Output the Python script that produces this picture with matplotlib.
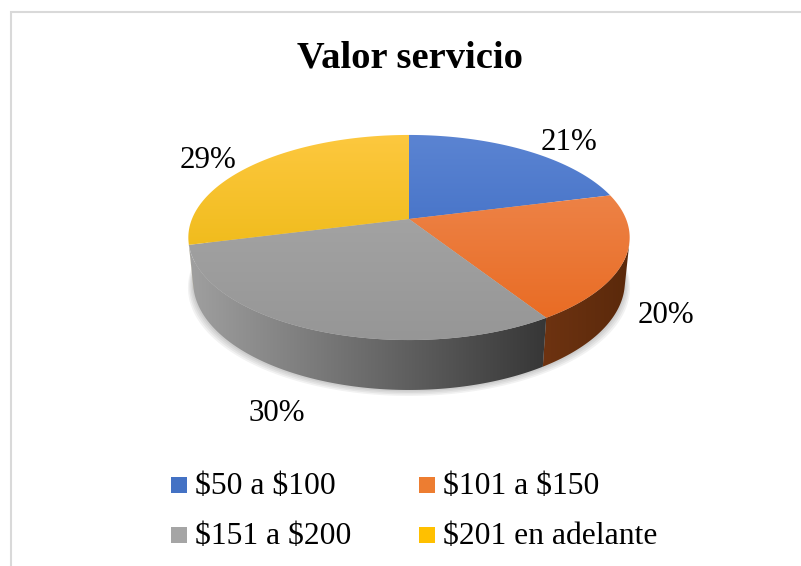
import numpy as np
import matplotlib
matplotlib.use('Agg')
import matplotlib.pyplot as plt
from matplotlib.patches import Polygon, Rectangle
from matplotlib.colors import LinearSegmentedColormap

# Data
categories = ['\\$50 a \\$100', '\\$101 a \\$150', '\\$151 a \\$200', '\\$201 en adelante']
values = [21, 20, 30, 29]
pct_labels = ['21%', '20%', '30%', '29%']

# Colours (top face light -> dark, side face left -> right)
top_colors = [('#5b84d2', '#3162be'), ('#ef8d57', '#e8681e'),
              ('#ababab', '#969696'), ('#fdc83f', '#e6b200')]
side_colors = [('#2a4a8c', '#223d75'), ('#6e3311', '#5a290b'),
               ('#a0a0a0', '#363636'), ('#a88000', '#8a6a00')]
legend_colors = ['#4472c4', '#ed7d31', '#a5a5a5', '#ffc000']

plt.rcParams['font.family'] = ['Liberation Serif', 'DejaVu Serif']

fig = plt.figure(figsize=(8.01, 5.66), dpi=100)
ax = fig.add_axes([0, 0, 1, 1])
ax.set_axis_off()

# Perspective projection of a flat cylinder (pixel space)
cx, cy = 409, 219
F, D, h = 1070.0, 4.93, 0.231
elev = np.radians(27.2)
se, ce = np.sin(elev), np.cos(elev)

def project(theta, z):
    X = np.cos(theta)
    Y = np.sin(theta)
    depth = D + Y * ce - z * se
    return cx + F * X / depth, cy - F * (Y * se + z * ce) / depth

def gradient(c0, c1, vertical):
    cmap = LinearSegmentedColormap.from_list('g', [c0, c1])
    g = np.linspace(0, 1, 256)
    arr = g.reshape(-1, 1) if vertical else g.reshape(1, -1)
    return cmap(arr)

# Slice angles: start at 12 o'clock, clockwise
cum = np.concatenate([[0], np.cumsum(values)]) / float(sum(values))
starts = np.radians(90 - 360 * cum[:-1])
ends = np.radians(90 - 360 * cum[1:])

# Visible side range
lim = np.arcsin(1.0 / (D * ce))
vis_lo, vis_hi = -np.pi + lim, -lim

# Soft shadow under the pie
for k in range(4):
    sx, sy = project(np.linspace(0, 2 * np.pi, 300), -h)
    sx = cx + (sx - cx) * (1.0 + 0.006 * (k + 1))
    sy = sy + 1.5 * (k + 1)
    ax.add_patch(Polygon(np.column_stack([sx, sy]), closed=True,
                         facecolor='#000000', edgecolor='none', alpha=0.05, zorder=1))

# Side faces
for i in range(len(values)):
    s0 = starts[i]
    e0 = ends[i]
    hi = min(s0, vis_hi)
    lo = max(e0, vis_lo)
    if hi <= lo:
        s0 -= 2 * np.pi
        e0 -= 2 * np.pi
        hi = min(s0, vis_hi)
        lo = max(e0, vis_lo)
        if hi <= lo:
            continue
    th = np.linspace(hi, lo, 120)
    tx, ty = project(th, 0.0)
    bx, by = project(th[::-1], -h)
    pts = np.column_stack([np.concatenate([tx, bx]), np.concatenate([ty, by])])
    poly = Polygon(pts, closed=True, facecolor='none', edgecolor='none',
                   transform=ax.transData)
    ax.add_patch(poly)
    x0, x1 = pts[:, 0].min() - 1, pts[:, 0].max() + 1
    if i == 2:
        x0, x1 = 188, 548
    im = ax.imshow(gradient(side_colors[i][0], side_colors[i][1], False),
                   extent=(x0, x1, pts[:, 1].max() + 1, pts[:, 1].min() - 1),
                   aspect='auto', zorder=2, interpolation='bilinear')
    im.set_clip_path(poly)

# Top faces
for i in range(len(values)):
    th = np.linspace(starts[i], ends[i], 150)
    ex, ey = project(th, 0.0)
    pts = np.column_stack([np.concatenate([[cx], ex]), np.concatenate([[cy], ey])])
    poly = Polygon(pts, closed=True, facecolor='none', edgecolor='none',
                   transform=ax.transData)
    ax.add_patch(poly)
    im = ax.imshow(gradient(top_colors[i][0], top_colors[i][1], True),
                   extent=(185, 632, 341, 134), aspect='auto', zorder=3,
                   interpolation='bilinear')
    im.set_clip_path(poly)

# Percentage labels
label_pos = [(569, 150), (666, 323), (277, 421), (208, 168)]
for (x, y), txt in zip(label_pos, pct_labels):
    ax.text(x, y, txt, ha='center', va='baseline', fontsize=22.3, color='#000000', zorder=5)

# Title
ax.text(410, 67, 'Valor servicio', ha='center', va='baseline',
        fontsize=27.7, fontweight='bold', color='#000000', zorder=5)

# Legend
leg_pos = [(171, 477), (419, 477), (171, 527), (419, 527)]
for (x, y), col, lab in zip(leg_pos, legend_colors, categories):
    ax.add_patch(Rectangle((x, y), 16, 16, facecolor=col, edgecolor='none', zorder=5))
    ax.text(x + 24, y + 17, lab, ha='left', va='baseline', fontsize=22.8, color='#000000', zorder=5)

# Chart border (top and left visible)
ax.plot([11, 11, 805], [570, 12, 12], color='#d9d9d9', lw=1.5, zorder=6,
        solid_joinstyle='miter')

ax.set_xlim(0, 801)
ax.set_ylim(566, 0)

plt.savefig('out.png', dpi=100)
